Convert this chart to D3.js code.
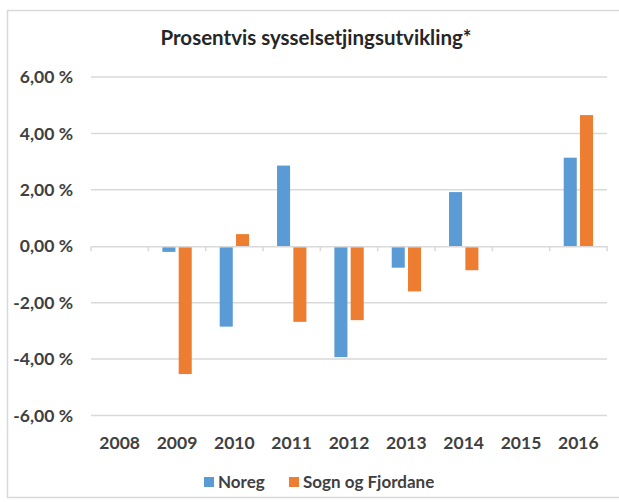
<!DOCTYPE html>
<html>
<head>
<meta charset="utf-8">
<script src="https://cdn.jsdelivr.net/npm/d3@7"></script>
<style>
  body { margin: 0; background: #fff; }
  svg text { font-family: Lato, "Open Sans", sans-serif; font-weight: 700; fill: #404040; }
</style>
</head>
<body>
<div id="chart"></div>
<script>
const years = ["2008", "2009", "2010", "2011", "2012", "2013", "2014", "2015", "2016"];
const seriesNames = ["Noreg", "Sogn og Fjordane"];
const noreg = [0, -0.2, -2.85, 2.86, -3.93, -0.76, 1.92, 0, 3.14];
const sognOgFjordane = [0, -4.53, 0.43, -2.68, -2.62, -1.6, -0.85, 0, 4.65];
const yTicks = [-6, -4, -2, 0, 2, 4, 6];
const title = "Prosentvis sysselsetjingsutvikling*";

const colors = ["#5B9BD5", "#ED7D31"];
const width = 619, height = 502;

const svg = d3.select("#chart")
    .append("svg")
    .attr("width", width)
    .attr("height", height);

// chart border
svg.append("rect")
    .attr("x", 7.5)
    .attr("y", 10.5)
    .attr("width", 640)
    .attr("height", 487)
    .attr("fill", "none")
    .attr("stroke", "#d9d9d9")
    .attr("stroke-width", 1.5);

svg.append("text")
    .attr("x", 316)
    .attr("y", 45)
    .attr("text-anchor", "middle")
    .attr("font-size", 20.5)
    .style("fill", "#262626")
    .text(title);

const x0 = d3.scaleBand()
    .domain(years)
    .range([91, 607]);

const x1 = d3.scaleBand()
    .domain(seriesNames)
    .range([x0.bandwidth() * 0.245, x0.bandwidth() * 0.757])
    .paddingInner(0.2);

const y = d3.scaleLinear()
    .domain([-6, 6])
    .range([415.5, 77]);

const fmt = d => d3.format(".2f")(d).replace(".", ",").replace("−", "-") + " %";

// grid lines
svg.append("g")
    .selectAll("line")
    .data(yTicks.filter(d => d !== 0))
    .enter().append("line")
    .attr("x1", 91)
    .attr("x2", 607)
    .attr("y1", d => y(d))
    .attr("y2", d => y(d))
    .attr("stroke", "#d9d9d9")
    .attr("stroke-width", 1.5);

// y labels
svg.append("g")
    .selectAll("text")
    .data(yTicks)
    .enter().append("text")
    .attr("x", 73)
    .attr("y", d => y(d))
    .attr("dy", "0.35em")
    .attr("text-anchor", "end")
    .attr("font-size", 17.5)
    .text(fmt);

// bars
const data = years.map((yr, i) => ({ year: yr, values: [noreg[i], sognOgFjordane[i]] }));
svg.append("g")
    .selectAll("g")
    .data(data)
    .enter().append("g")
    .attr("transform", d => `translate(${x0(d.year)},0)`)
    .selectAll("rect")
    .data(d => d.values.map((v, j) => ({ key: seriesNames[j], value: v, i: j })))
    .enter().append("rect")
    .attr("x", d => x1(d.key))
    .attr("width", x1.bandwidth())
    .attr("y", d => y(Math.max(0, d.value)))
    .attr("height", d => Math.abs(y(d.value) - y(0)))
    .attr("fill", d => colors[d.i]);

// category axis at zero
const axisX = d3.axisBottom(x0)
    .tickSize(0)
    .tickPadding(0)
    .tickFormat("");
const axisG = svg.append("g")
    .attr("class", "axis_x")
    .attr("transform", `translate(0, ${y(0)})`)
    .call(axisX);
axisG.select(".domain").attr("stroke", "#d9d9d9").attr("stroke-width", 1.5);
axisG.selectAll(".tick").remove();
axisG.selectAll(".sep")
    .data(d3.range(years.length + 1))
    .enter().append("line")
    .attr("x1", i => 91 + i * x0.step())
    .attr("x2", i => 91 + i * x0.step())
    .attr("y1", 0)
    .attr("y2", 5)
    .attr("stroke", "#d9d9d9")
    .attr("stroke-width", 1.5);

// category labels at bottom
svg.append("g")
    .selectAll("text")
    .data(years)
    .enter().append("text")
    .attr("x", d => x0(d) + x0.bandwidth() / 2)
    .attr("y", 449)
    .attr("text-anchor", "middle")
    .attr("font-size", 17.5)
    .text(d => d);

// legend
const legendPos = [204, 289];
const legend = svg.append("g")
    .selectAll("g")
    .data(seriesNames)
    .enter().append("g")
    .attr("transform", (d, i) => `translate(${legendPos[i]}, 477)`);
legend.append("rect")
    .attr("width", 10)
    .attr("height", 10)
    .attr("fill", (d, i) => colors[i]);
legend.append("text")
    .attr("x", 14)
    .attr("y", 5)
    .attr("dy", "0.35em")
    .attr("font-size", 17)
    .text(d => d);
</script>
</body>
</html>
